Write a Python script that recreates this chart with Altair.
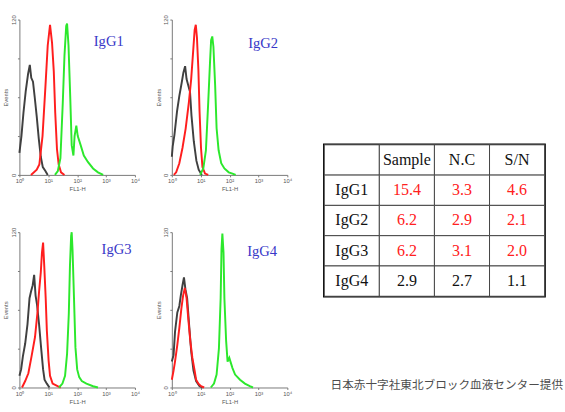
import altair as alt
import pandas as pd

# ---------------- data ----------------
# x values are stored as log10(FL1-H); y values are event counts
P1_BLACK_LOGX = [0.0, 0.07, 0.14, 0.22, 0.30, 0.36, 0.41, 0.47, 0.53, 0.60, 0.67, 0.74, 0.81, 0.90, 0.98]
P1_BLACK_N = [17, 30, 48, 65, 78, 85, 75, 72, 60, 45, 28, 14, 6, 3, 0]
P1_RED_LOGX = [0.40, 0.60, 0.69, 0.80, 0.90, 0.98, 1.06, 1.13, 1.19, 1.24, 1.30, 1.36, 1.44, 1.56]
P1_RED_N = [0, 4, 8, 30, 68, 100, 116, 102, 80, 48, 20, 8, 2, 0]
P1_GREEN_LOGX = [1.23, 1.33, 1.42, 1.50, 1.56, 1.62, 1.65, 1.70, 1.76, 1.81, 1.87, 1.91, 1.97, 2.02, 2.12, 2.23, 2.37, 2.55, 2.72, 2.90]
P1_GREEN_N = [0, 3, 13, 55, 92, 115, 117, 100, 60, 23, 15, 30, 38, 30, 23, 15, 10, 5, 2, 0]

P2_BLACK_LOGX = [0.0, 0.03, 0.09, 0.18, 0.26, 0.34, 0.40, 0.46, 0.51, 0.57, 0.63, 0.68, 0.76, 0.85, 0.93, 1.04]
P2_BLACK_N = [14, 22, 31, 49, 61, 71, 79, 84, 74, 69, 64, 46, 26, 11, 4, 0]
P2_RED_LOGX = [0.07, 0.15, 0.26, 0.37, 0.48, 0.59, 0.67, 0.74, 0.79, 0.83, 0.87, 0.92, 0.96, 1.01, 1.06, 1.15, 1.26]
P2_RED_N = [0, 2, 9, 21, 36, 56, 74, 96, 112, 116, 106, 81, 49, 21, 6, 1, 0]
P2_GREEN_LOGX = [0.98, 1.09, 1.18, 1.26, 1.32, 1.36, 1.40, 1.44, 1.50, 1.55, 1.62, 1.71, 1.82, 1.97, 2.10, 2.21]
P2_GREEN_N = [0, 5, 19, 56, 86, 104, 107, 99, 69, 36, 19, 9, 5, 2, 1, 0]

P3_BLACK_LOGX = [0.0, 0.06, 0.12, 0.20, 0.28, 0.35, 0.40, 0.46, 0.51, 0.56, 0.61, 0.68, 0.75, 0.82, 0.87, 0.95, 1.04]
P3_BLACK_N = [9, 14, 24, 34, 49, 69, 74, 79, 87, 71, 64, 49, 31, 14, 6, 3, 0]
P3_RED_LOGX = [0.09, 0.20, 0.31, 0.42, 0.54, 0.63, 0.68, 0.74, 0.78, 0.82, 0.86, 0.91, 0.95, 1.01, 1.06, 1.15, 1.32, 1.43]
P3_RED_N = [0, 5, 11, 24, 39, 59, 74, 89, 104, 112, 94, 69, 44, 21, 9, 3, 1, 0]
P3_GREEN_LOGX = [1.37, 1.49, 1.58, 1.65, 1.71, 1.75, 1.79, 1.81, 1.84, 1.89, 1.94, 2.00, 2.07, 2.16, 2.32, 2.55, 2.72]
P3_GREEN_N = [0, 3, 9, 26, 57, 94, 117, 120, 106, 69, 31, 14, 8, 5, 3, 1, 0]

P4_BLACK_LOGX = [0.0, 0.06, 0.11, 0.19, 0.26, 0.31, 0.37, 0.42, 0.47, 0.53, 0.60, 0.67, 0.75, 0.84, 0.96, 1.07]
P4_BLACK_N = [20, 25, 43, 58, 63, 71, 79, 85, 76, 69, 48, 28, 13, 5, 1, 0]
P4_RED_LOGX = [0.0, 0.06, 0.11, 0.19, 0.26, 0.33, 0.39, 0.45, 0.51, 0.57, 0.64, 0.71, 0.79, 0.84, 0.92, 1.01, 1.12]
P4_RED_N = [6, 13, 20, 33, 46, 61, 71, 77, 69, 53, 36, 23, 13, 6, 3, 1, 0]
P4_GREEN_LOGX = [1.35, 1.46, 1.55, 1.63, 1.69, 1.72, 1.75, 1.79, 1.82, 1.88, 1.93, 1.99, 2.03, 2.10, 2.19, 2.36, 2.53, 2.70, 2.81]
P4_GREEN_N = [0, 3, 10, 30, 69, 107, 119, 104, 69, 36, 20, 23, 20, 15, 10, 6, 3, 1, 0]

PANELS = ["IgG1", "IgG2", "IgG3", "IgG4"]
SERIES = ["Control", "N.C", "Sample"]
CURVES = {
    "IgG1": [(P1_BLACK_LOGX, P1_BLACK_N), (P1_RED_LOGX, P1_RED_N), (P1_GREEN_LOGX, P1_GREEN_N)],
    "IgG2": [(P2_BLACK_LOGX, P2_BLACK_N), (P2_RED_LOGX, P2_RED_N), (P2_GREEN_LOGX, P2_GREEN_N)],
    "IgG3": [(P3_BLACK_LOGX, P3_BLACK_N), (P3_RED_LOGX, P3_RED_N), (P3_GREEN_LOGX, P3_GREEN_N)],
    "IgG4": [(P4_BLACK_LOGX, P4_BLACK_N), (P4_RED_LOGX, P4_RED_N), (P4_GREEN_LOGX, P4_GREEN_N)],
}

X_TICK_VALUES = [1, 10, 100, 1000, 10000]
X_TICK_LABELS = ["10\u2070", "10\u00b9", "10\u00b2", "10\u00b3", "10\u2074"]
Y_TICK_VALUES = [0, 30, 60, 90, 120]
Y_SHOWN_LABELS = [0, 120]

TABLE_COLUMNS = ["", "Sample", "N.C", "S/N"]
TABLE_ROWS = ["IgG1", "IgG2", "IgG3", "IgG4"]
SAMPLE_VALUES = [15.4, 6.2, 6.2, 2.9]
NC_VALUES = [3.3, 2.9, 3.1, 2.7]
SN_VALUES = [4.6, 2.1, 2.0, 1.1]
SN_POSITIVE = 2.0

CAPTION = "日本赤十字社東北ブロック血液センター提供"

# ---------------- styling ----------------
SERIES_COLORS = ["#404040", "#ff1e1e", "#2ce82c"]
LABEL_COLOR = "#3838c8"
PANEL_W, PANEL_H = 119, 160
LABEL_XY = {"IgG1": (92, 22), "IgG2": (94, 24), "IgG3": (100, 17), "IgG4": (93, 20)}

x_label_expr = " : ".join(
    f"datum.value == {v} ? '{t}'" for v, t in zip(X_TICK_VALUES, X_TICK_LABELS)
) + " : ''"
y_label_expr = " || ".join(f"datum.value == {v}" for v in Y_SHOWN_LABELS) + " ? datum.label : ''"

X = alt.X(
    "fl1h:Q",
    scale=alt.Scale(type="log", domain=[1, 10000], nice=False),
    axis=alt.Axis(values=X_TICK_VALUES, labelExpr=x_label_expr, title="FL1-H", labelFlush=False),
)
Y = alt.Y(
    "events:Q",
    scale=alt.Scale(domain=[0, 120], nice=False),
    axis=alt.Axis(values=Y_TICK_VALUES, labelExpr=y_label_expr, title="Events", labelAngle=270),
)


def panel(name):
    rows = []
    for s, (lx, n) in zip(SERIES, CURVES[name]):
        for i, (a, b) in enumerate(zip(lx, n)):
            rows.append({"series": s, "idx": i, "fl1h": 10 ** a, "events": b})
    df = pd.DataFrame(rows)
    base = alt.Chart(df)
    layers = []
    for s, col in zip(SERIES, SERIES_COLORS):
        layers.append(
            base.transform_filter(alt.datum.series == s)
            .mark_line(color=col, strokeWidth=2)
            .encode(x=X, y=Y, order="idx:Q")
        )
    px, py = LABEL_XY[name]
    label = (
        alt.Chart(pd.DataFrame({"t": [name]}))
        .mark_text(font="Liberation Serif", fontSize=15, color=LABEL_COLOR, align="center", baseline="middle")
        .encode(text="t:N", x=alt.value(px), y=alt.value(py))
    )
    return alt.layer(*layers, label).properties(width=PANEL_W, height=PANEL_H)


p1, p2, p3, p4 = (panel(n) for n in PANELS)
left = alt.vconcat(
    alt.hconcat(p1, p2, spacing=16),
    alt.hconcat(p3, p4, spacing=16),
    spacing=36,
)

# ---------------- table ----------------
cells = []
for j, h in enumerate(TABLE_COLUMNS):
    cells.append({"ci": j, "ri": 0, "text": h, "tone": "black"})
for i, r in enumerate(TABLE_ROWS):
    tone = "red" if SN_VALUES[i] >= SN_POSITIVE else "black"
    cells.append({"ci": 0, "ri": i + 1, "text": r, "tone": "black"})
    for j, v in enumerate([SAMPLE_VALUES[i], NC_VALUES[i], SN_VALUES[i]]):
        cells.append({"ci": j + 1, "ri": i + 1, "text": f"{v:.1f}", "tone": tone})
cdf = pd.DataFrame(cells)

TX = alt.X("ci:O", axis=None, scale=alt.Scale(paddingInner=0, paddingOuter=0))
TY = alt.Y("ri:O", axis=None, scale=alt.Scale(paddingInner=0, paddingOuter=0))
tbase = alt.Chart(cdf)
grid = tbase.mark_rect(fill="white", stroke="#444444", strokeWidth=1).encode(x=TX, y=TY)
texts = tbase.mark_text(font="Liberation Serif", fontSize=16.5, baseline="middle").encode(
    x=TX,
    y=TY,
    text="text:N",
    color=alt.Color("tone:N", scale=alt.Scale(domain=["black", "red"], range=["#111111", "#ff2020"]), legend=None),
)
table = alt.layer(grid, texts).properties(
    width=227,
    height=156,
    view=alt.ViewBackground(stroke="black", strokeWidth=2.5),
    title=alt.TitleParams(
        text=CAPTION,
        orient="bottom",
        anchor="start",
        offset=86,
        dx=7,
        font="Noto Sans CJK JP",
        fontSize=12,
        fontWeight="normal",
        color="#4d4d4d",
    ),
)
spacer = (
    alt.Chart(pd.DataFrame({"s": [0]}))
    .mark_rule(strokeOpacity=0)
    .encode(x=alt.value(1), y=alt.value(1), y2=alt.value(2))
    .properties(width=227, height=127)
)
right = alt.vconcat(spacer, table, spacing=0)

chart = (
    alt.hconcat(left, right, spacing=31)
    .properties(padding={"left": 3, "top": 8, "right": 0, "bottom": 0}, background="white")
    .configure_view(stroke=None)
    .configure_axis(
        grid=False,
        labelFont="Liberation Sans",
        labelFontSize=6,
        labelColor="#555555",
        titleFont="Liberation Sans",
        titleFontSize=6,
        titleFontWeight="normal",
        titleColor="#555555",
        tickSize=2,
        tickColor="#777777",
        domainColor="#777777",
        labelPadding=1,
        titlePadding=2,
    )
)

chart.save("out.html", embed_options={"renderer": "svg", "actions": False})
